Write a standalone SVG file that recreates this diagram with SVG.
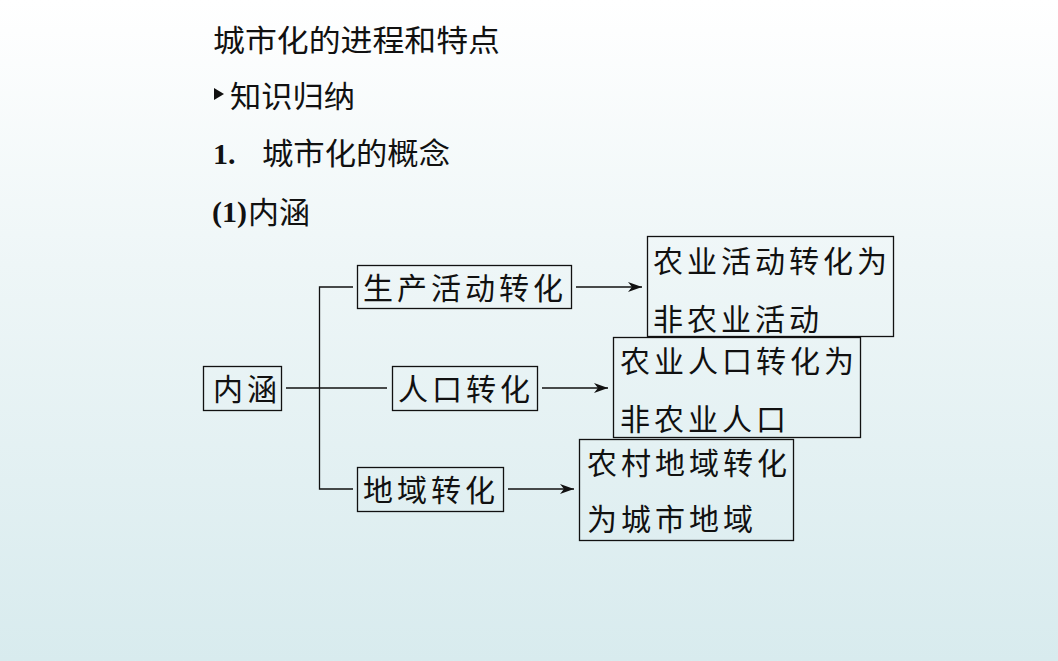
<svg xmlns="http://www.w3.org/2000/svg" width="1058" height="661" viewBox="0 0 1058 661">
<defs>
<linearGradient id="bg" x1="0" y1="0" x2="0" y2="1">
<stop offset="0" stop-color="#ffffff"/>
<stop offset="0.4" stop-color="#eef6f7"/>
<stop offset="1" stop-color="#d8ebee"/>
</linearGradient>
<marker id="arr" viewBox="0 0 14 10" refX="14" refY="5" markerWidth="14" markerHeight="10" markerUnits="userSpaceOnUse" orient="auto">
<path d="M0,0 L14,5 L0,10 L4,5 Z" fill="#111"/>
</marker>
<style>
.cjk{font-family:"Noto Sans CJK SC","Noto Sans",sans-serif;fill:#111;}
.t{font-size:30px;}
.n{font-size:30px;letter-spacing:4px;}
.b{font-family:"Liberation Serif",serif;font-weight:bold;font-size:30px;fill:#111;}
.box{fill:none;stroke:#111;stroke-width:1.3;}
.ln{fill:none;stroke:#111;stroke-width:1.3;}
</style>
</defs>
<rect width="1058" height="661" fill="url(#bg)"/>
<g id="headings">
<text class="cjk t" x="213" y="51" textLength="287" lengthAdjust="spacingAndGlyphs">城市化的进程和特点</text>
<path d="M214,88 L224,94 L214,100 Z" fill="#111"/>
<text class="cjk t" x="230" y="106.5" textLength="125" lengthAdjust="spacingAndGlyphs">知识归纳</text>
<text class="b" x="213" y="164">1.</text>
<text class="cjk t" x="262" y="164" textLength="188" lengthAdjust="spacingAndGlyphs">城市化的概念</text>
<text class="b" x="212" y="222">(1)</text>
<text class="cjk t" x="248" y="222.5" textLength="62" lengthAdjust="spacingAndGlyphs">内涵</text>
</g>
<g id="connectors">
<path class="ln" d="M353,287 H319.5 V489 H353"/>
<path class="ln" d="M286,388 H387"/>
<path class="ln" d="M576,287 H642" marker-end="url(#arr)"/>
<path class="ln" d="M542,388 H608" marker-end="url(#arr)"/>
<path class="ln" d="M508,489 H574" marker-end="url(#arr)"/>
</g>
<g id="node-neihan">
<rect class="box" x="203.5" y="366.5" width="78" height="44"/>
<text class="cjk n" x="213" y="399.5">内涵</text>
</g>
<g id="node-shengchan">
<rect class="box" x="357.5" y="265.5" width="214" height="43"/>
<text class="cjk n" x="363" y="298.5">生产活动转化</text>
</g>
<g id="node-renkou">
<rect class="box" x="392.5" y="366.5" width="145" height="44"/>
<text class="cjk n" x="398" y="399.5">人口转化</text>
</g>
<g id="node-diyu">
<rect class="box" x="357.5" y="467.5" width="146" height="44"/>
<text class="cjk n" x="363" y="500.5">地域转化</text>
</g>
<g id="node-r1">
<rect class="box" x="647.5" y="236.5" width="246" height="100"/>
<text class="cjk n" x="653" y="271.5">农业活动转化为</text>
<text class="cjk n" x="653" y="329.5">非农业活动</text>
</g>
<g id="node-r2">
<rect class="box" x="613.5" y="337.5" width="247" height="100"/>
<text class="cjk n" x="620" y="371.5">农业人口转化为</text>
<text class="cjk n" x="620" y="429.5">非农业人口</text>
</g>
<g id="node-r3">
<rect class="box" x="579.5" y="439.5" width="214" height="101"/>
<text class="cjk n" x="587" y="473.5">农村地域转化</text>
<text class="cjk n" x="587" y="529.5">为城市地域</text>
</g>
</svg>
